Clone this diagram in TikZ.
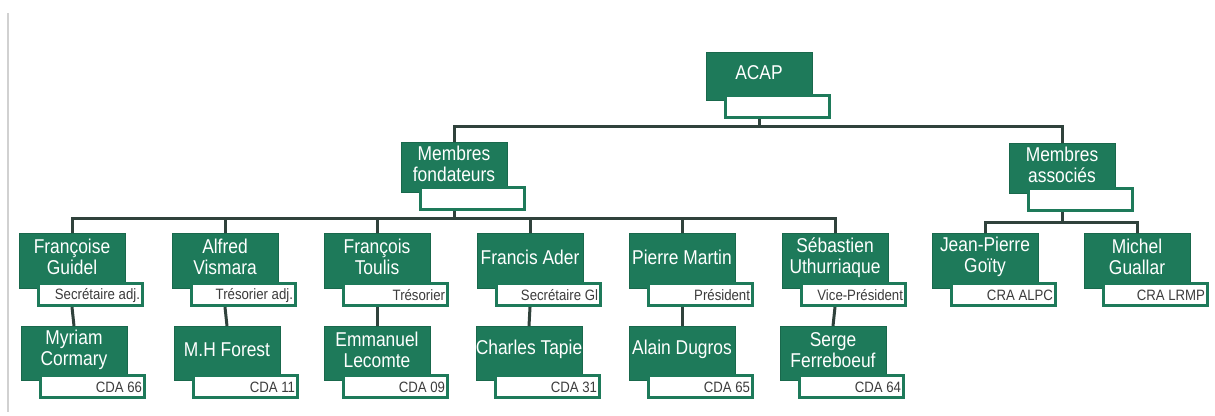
\documentclass[tikz,border=0pt]{standalone}
\usepackage{fontspec}
\setmainfont{Liberation Sans}
\newfontfamily\mainnodefont{Liberation Sans}[FakeStretch=0.87]
\newfontfamily\subnodefont{Liberation Sans}[FakeStretch=0.88]
\usetikzlibrary{calc,backgrounds}
\definecolor{boxgreen}{RGB}{30,122,90}
\definecolor{connc}{RGB}{48,66,60}
\definecolor{subtxt}{RGB}{60,60,60}
\tikzset{
  mainbox/.style={fill=boxgreen, draw=boxgreen!85!black, line width=0.6pt, minimum width=106pt, inner sep=0pt},
  subbox/.style={fill=white, draw=boxgreen, line width=3.5pt, minimum width=104pt, minimum height=22pt, inner sep=0pt},
  maintext/.style={text=white, font=\mainnodefont\fontsize{20}{21}\selectfont, align=center, inner sep=0pt},
  subtext/.style={text=subtxt, font=\subnodefont\fontsize{15}{16}\selectfont, inner sep=0pt},
  conn/.style={draw=connc, line width=3pt},
}
\newcommand{\orgnode}[6]{%
  \node[mainbox, minimum height=#4pt, anchor=north] (#1) at (#2,#3) {};
  \node[subbox, anchor=north west] (#1s) at ([xshift=18pt,yshift=7pt]#1.south west) {};
  \node[maintext] (#1t) at ($(#1.north)!0.5!(#1s.north -| #1.north)$) {#5};
  \node[subtext, anchor=east] (#1x) at ([xshift=-4pt,yshift=-1pt]#1s.east) {#6};
}
\begin{document}
\begin{tikzpicture}[x=1pt,y=-1pt]
\useasboundingbox (0,0) rectangle (1215,415);
\draw[black!18, line width=1.5pt] (8,13) -- (8,412);
\coordinate (busA) at (0,126);
\coordinate (busB) at (0,218);
\coordinate (busC) at (0,222);
% nodes
\orgnode{acap}{759}{52}{48}{ACAP}{}
\orgnode{fond}{454}{142}{50}{Membres\\fondateurs}{}
\orgnode{asso}{1062}{143}{50}{Membres\\associés}{}
\orgnode{guidel}{72}{233}{55}{Françoise\\Guidel}{Secrétaire adj.}
\orgnode{vismara}{225}{233}{55}{Alfred\\Vismara}{Trésorier adj.}
\orgnode{toulis}{377}{233}{55}{François\\Toulis}{Trésorier}
\orgnode{ader}{530}{233}{55}{Francis Ader}{Secrétaire Gl}
\orgnode{martin}{682}{233}{55}{Pierre Martin}{Président}
\orgnode{uthu}{835}{233}{55}{Sébastien\\Uthurriaque}{Vice-Président}
\orgnode{goity}{985}{233}{55}{Jean-Pierre\\Goïty}{CRA ALPC}
\orgnode{guallar}{1137}{233}{55}{Michel\\Guallar}{CRA LRMP}
\orgnode{cormary}{74}{326}{54}{Myriam\\Cormary}{CDA 66}
\orgnode{forest}{227}{326}{54}{M.H Forest}{CDA 11}
\orgnode{lecomte}{377}{326}{54}{Emmanuel\\Lecomte}{CDA 09}
\orgnode{tapie}{529}{326}{54}{Charles Tapie}{CDA 31}
\orgnode{dugros}{682}{326}{54}{Alain Dugros}{CDA 65}
\orgnode{ferre}{833}{326}{54}{Serge\\Ferreboeuf}{CDA 64}
% connectors
\begin{scope}[on background layer]
\draw[conn] (acaps.south -| acap.center) -- (busA -| acap.center);
\draw[conn] (fond.north) -- (busA -| fond.north) -- (busA -| asso.north) -- (asso.north);
\draw[conn] (fonds.south -| fond.center) -- (busB -| fond.center);
\draw[conn] (guidel.north) -- (busB -| guidel.north) -- (busB -| uthu.north) -- (uthu.north);
\foreach \n in {vismara,toulis,ader,martin}{
  \draw[conn] (\n.north) -- (busB -| \n.north);
}
\draw[conn] (assos.south -| asso.center) -- (busC -| asso.center);
\draw[conn] (goity.north) -- (busC -| goity.north) -- (busC -| guallar.north) -- (guallar.north);
\draw[conn] (guidels.south -| guidel.center) -- (cormary.north);
\draw[conn] (vismaras.south -| vismara.center) -- (forest.north);
\draw[conn] (touliss.south -| toulis.center) -- (lecomte.north);
\draw[conn] (aders.south -| ader.center) -- (tapie.north);
\draw[conn] (martins.south -| martin.center) -- (dugros.north);
\draw[conn] (uthus.south -| uthu.center) -- (ferre.north);
\end{scope}
\end{tikzpicture}
\end{document}
